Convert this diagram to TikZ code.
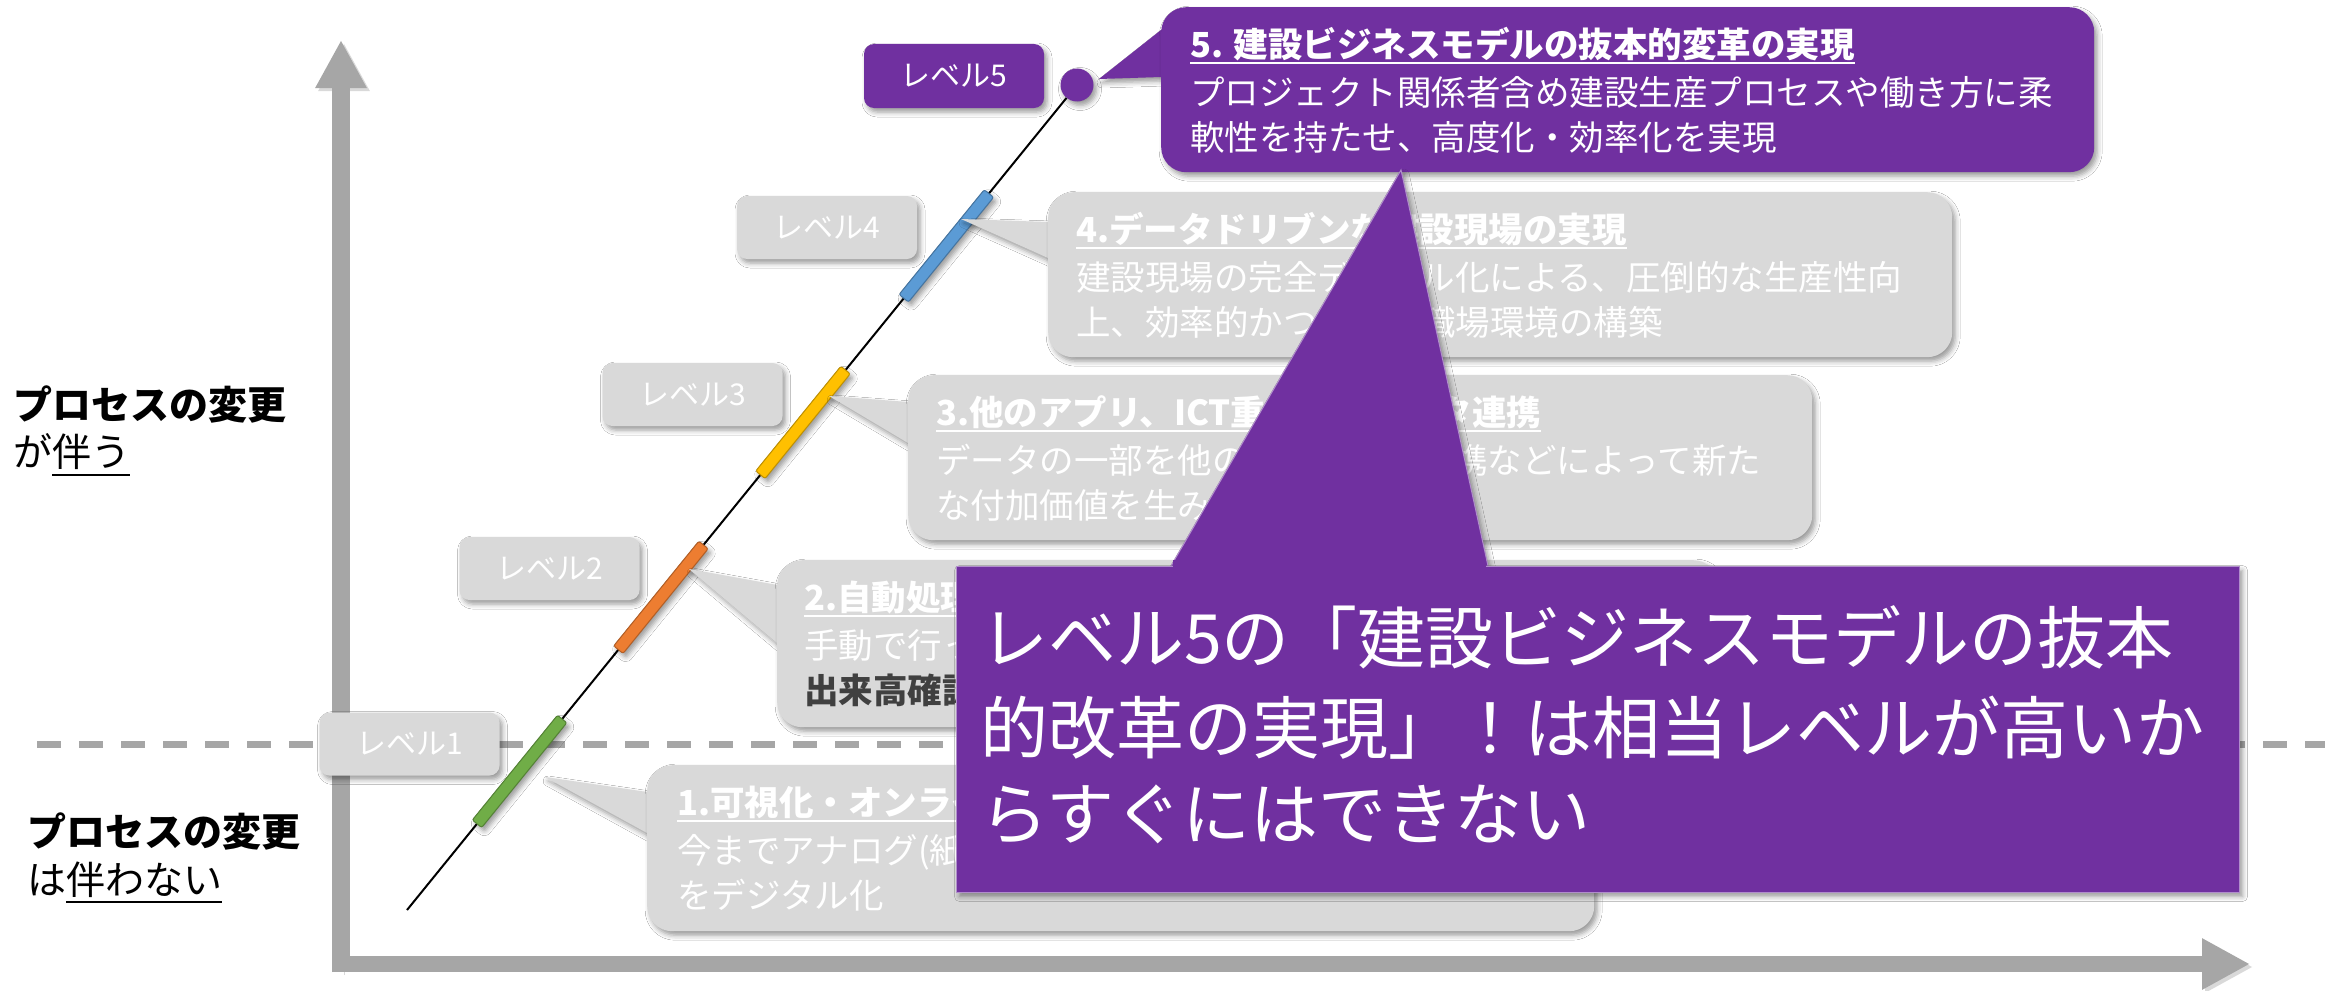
\documentclass[tikz,border=0pt]{standalone}
\usepackage{fontspec}
\setmainfont{Noto Sans CJK JP}
\usetikzlibrary{shadows.blur,arrows.meta,calc}
\definecolor{purp}{HTML}{7030A0}
\definecolor{callgray}{HTML}{D9D9D9}
\definecolor{axgray}{HTML}{A6A6A6}
\definecolor{darktxt}{HTML}{404040}
\definecolor{bgreen}{HTML}{70AD47}
\definecolor{borange}{HTML}{ED7D31}
\definecolor{byellow}{HTML}{FFC000}
\definecolor{bblue}{HTML}{5B9BD5}
\newcommand\myul[2]{\setbox0=\hbox{#2}\rlap{\rule[-#1]{\wd0}{2pt}}\box0}
\tikzset{
  shadowed/.style={blur shadow={shadow xshift=3pt, shadow yshift=-4pt, shadow blur radius=5pt, shadow opacity=40}},
  axisarrow/.style={draw=axgray, line width=18pt, -{Triangle[length=48pt,width=48pt]},
     preaction={draw=black, opacity=0.15, transform canvas={shift={(3pt,-3pt)}}}},
  lvlbox/.style={rounded corners=10pt, fill=callgray, text=white, minimum width=180pt,
     minimum height=63pt, inner sep=0pt, font=\fontsize{30}{32}\selectfont, shadowed},
  cbox/.style={rounded corners=25pt, fill=callgray, anchor=north west, inner sep=0pt, shadowed},
  ptr/.style={fill=callgray, shadowed},
  bar/.style={rounded corners=2pt, minimum width=135pt, minimum height=12pt, inner sep=0pt,
     rotate=50.9, line width=1pt, shadowed},
  tx/.style={anchor=base west, inner sep=0pt, text=white, font=\fontsize{34.5}{40}\selectfont},
  ttl/.style={tx, font=\bfseries\fontsize{34.5}{40}\selectfont},
  bigtx/.style={anchor=base west, inner sep=0pt, text=white, font=\fontsize{68}{72}\selectfont},
  sidetx/.style={anchor=base west, inner sep=0pt, text=black, font=\fontsize{39}{44}\selectfont},
}
\begin{document}
\begin{tikzpicture}[x=1pt,y=-1pt]
\useasboundingbox (0,0) rectangle (2325,990);
\fill[white] (0,0) rectangle (2325,990);

% axes
\coordinate (yo) at (341,972);
\coordinate (ytip) at (341,40);
\coordinate (xo) at (332,964);
\coordinate (xtip) at (2250,964);
\draw[axisarrow] (yo) -- (ytip);
\draw[axisarrow, line width=16pt] (xo) -- (xtip);

% dashed separator
\coordinate (dl) at (37,744);
\coordinate (dr) at (2325,744);
\draw[axgray, line width=7pt, dash pattern=on 24pt off 18pt] (dl) -- (dr);

% side labels
\node[sidetx, font=\bfseries\fontsize{39}{44}\selectfont] (s1) at (13,419) {プロセスの変更};
\node[sidetx] (s2) at (13,466) {が\myul{10pt}{伴う}};
\node[sidetx, font=\bfseries\fontsize{39}{44}\selectfont] (s3) at (27,846) {プロセスの変更};
\node[sidetx] (s4) at (27,894) {は\myul{9pt}{伴わない}};

% level labels
\node[lvlbox, fill=purp, minimum height=64pt] (lv5) at (954,76) {レベル5};
\node[lvlbox] (lv4) at (827,227.5) {レベル4};
\node[lvlbox] (lv3) at (692.5,394.5) {レベル3};
\node[lvlbox] (lv2) at (549.5,568.5) {レベル2};
\node[lvlbox] (lv1) at (409.5,744) {レベル1};

% diagonal line and bars
\coordinate (lbase) at (407,910);
\coordinate (ltop) at (1077,85);
\node[circle, fill=purp, minimum size=33pt, inner sep=0pt, shadowed] (dot5) at (ltop) {};
\draw[black, line width=2pt] (lbase) -- (dot5);
\node[bar, fill=bgreen, draw=bgreen!75!black] (bar1) at ($(lbase)!0.168!(ltop)$) {};
\node[bar, fill=borange, draw=borange!75!black] (bar2) at ($(lbase)!0.379!(ltop)$) {};
\node[bar, fill=byellow, draw=byellow!75!black] (bar3) at ($(lbase)!0.591!(ltop)$) {};
\node[bar, fill=bblue, draw=bblue!75!black] (bar4) at ($(lbase)!0.805!(ltop)$) {};

% callout 1
\coordinate (t1) at (545,777);
\fill[ptr] (t1) -- (647,792) -- (680,792) -- (680,833) -- (647,833) -- cycle;
\node[cbox, minimum width=947pt, minimum height=166pt] (c1) at (647,765) {};
\node[ttl] (c1t) at (677,815) {\myul{7pt}{1.可視化・オンライ}};
\node[tx] (c1a) at (677,863) {今までアナログ(紙};
\node[tx] (c1b) at (677,908) {をデジタル化};

% callout 2
\coordinate (t2) at (689,569);
\fill[ptr] (t2) -- (777,585) -- (810,585) -- (810,643) -- (777,643) -- cycle;
\node[cbox, minimum width=941pt, minimum height=167pt] (c2) at (777,560) {};
\node[ttl] (c2t) at (804,610) {\myul{7pt}{2.自動処理}};
\node[tx] (c2a) at (804,658) {手動で行っ};
\node[tx, text=darktxt, font=\bfseries\fontsize{34.5}{40}\selectfont] (c2b) at (804,703) {出来高確認};

% callout 3
\coordinate (t3) at (829,396);
\fill[ptr] (t3) -- (908,402) -- (940,402) -- (940,443) -- (908,443) -- cycle;
\node[cbox, minimum width=904pt, minimum height=165pt] (c3) at (908,375) {};
\node[ttl] (c3t) at (936,425) {\myul{7pt}{3.他のアプリ、ICT重機とのデータ連携}};
\node[tx] (c3a) at (936,473) {データの一部を他のアプリとの連携などによって新た};
\node[tx] (c3b) at (936,518) {な付加価値を生み出す};

% callout 4
\coordinate (t4) at (961,219);
\fill[ptr] (t4) -- (1048,222) -- (1080,222) -- (1080,258) -- (1048,258) -- cycle;
\node[cbox, minimum width=904pt, minimum height=165pt] (c4) at (1048,192) {};
\node[ttl] (c4t) at (1076,242) {\myul{7pt}{4.データドリブンな建設現場の実現}};
\node[tx] (c4a) at (1076,290) {建設現場の完全デジタル化による、圧倒的な生産性向};
\node[tx] (c4b) at (1076,335) {上、効率的かつ安全な職場環境の構築};

% callout 5
\coordinate (t5) at (1099,79);
\fill[ptr, fill=purp] (t5) -- (1161,30) -- (1195,30) -- (1195,77) -- (1161,77) -- cycle;
\node[cbox, fill=purp, minimum width=933pt, minimum height=165pt] (c5) at (1161,7) {};
\node[ttl] (c5t) at (1190,57) {\myul{7pt}{5. 建設ビジネスモデルの抜本的変革の実現}};
\node[tx] (c5a) at (1190,105) {プロジェクト関係者含め建設生産プロセスや働き方に柔};
\node[tx] (c5b) at (1190,150) {軟性を持たせ、高度化・効率化を実現};

% big purple callout
\coordinate (t6) at (1401,170);
\fill[purp, shadowed, draw=purp!55!white, line width=1pt] (t6) -- (1171,566) -- (1488,566) -- cycle;
\node[rectangle, fill=purp, draw=purp!55!white, line width=1pt, anchor=north west, inner sep=0pt,
      minimum width=1283pt, minimum height=326pt, shadowed] (big) at (956,566) {};
\fill[purp] (1173,560) rectangle (1486,572);
\node[bigtx] (bg1) at (980,663) {レベル5の「建設ビジネスモデルの抜本};
\node[bigtx] (bg2) at (980,753) {的改革の実現」！は相当レベルが高いか};
\node[bigtx] (bg3) at (980,839) {らすぐにはできない};
\end{tikzpicture}
\end{document}
